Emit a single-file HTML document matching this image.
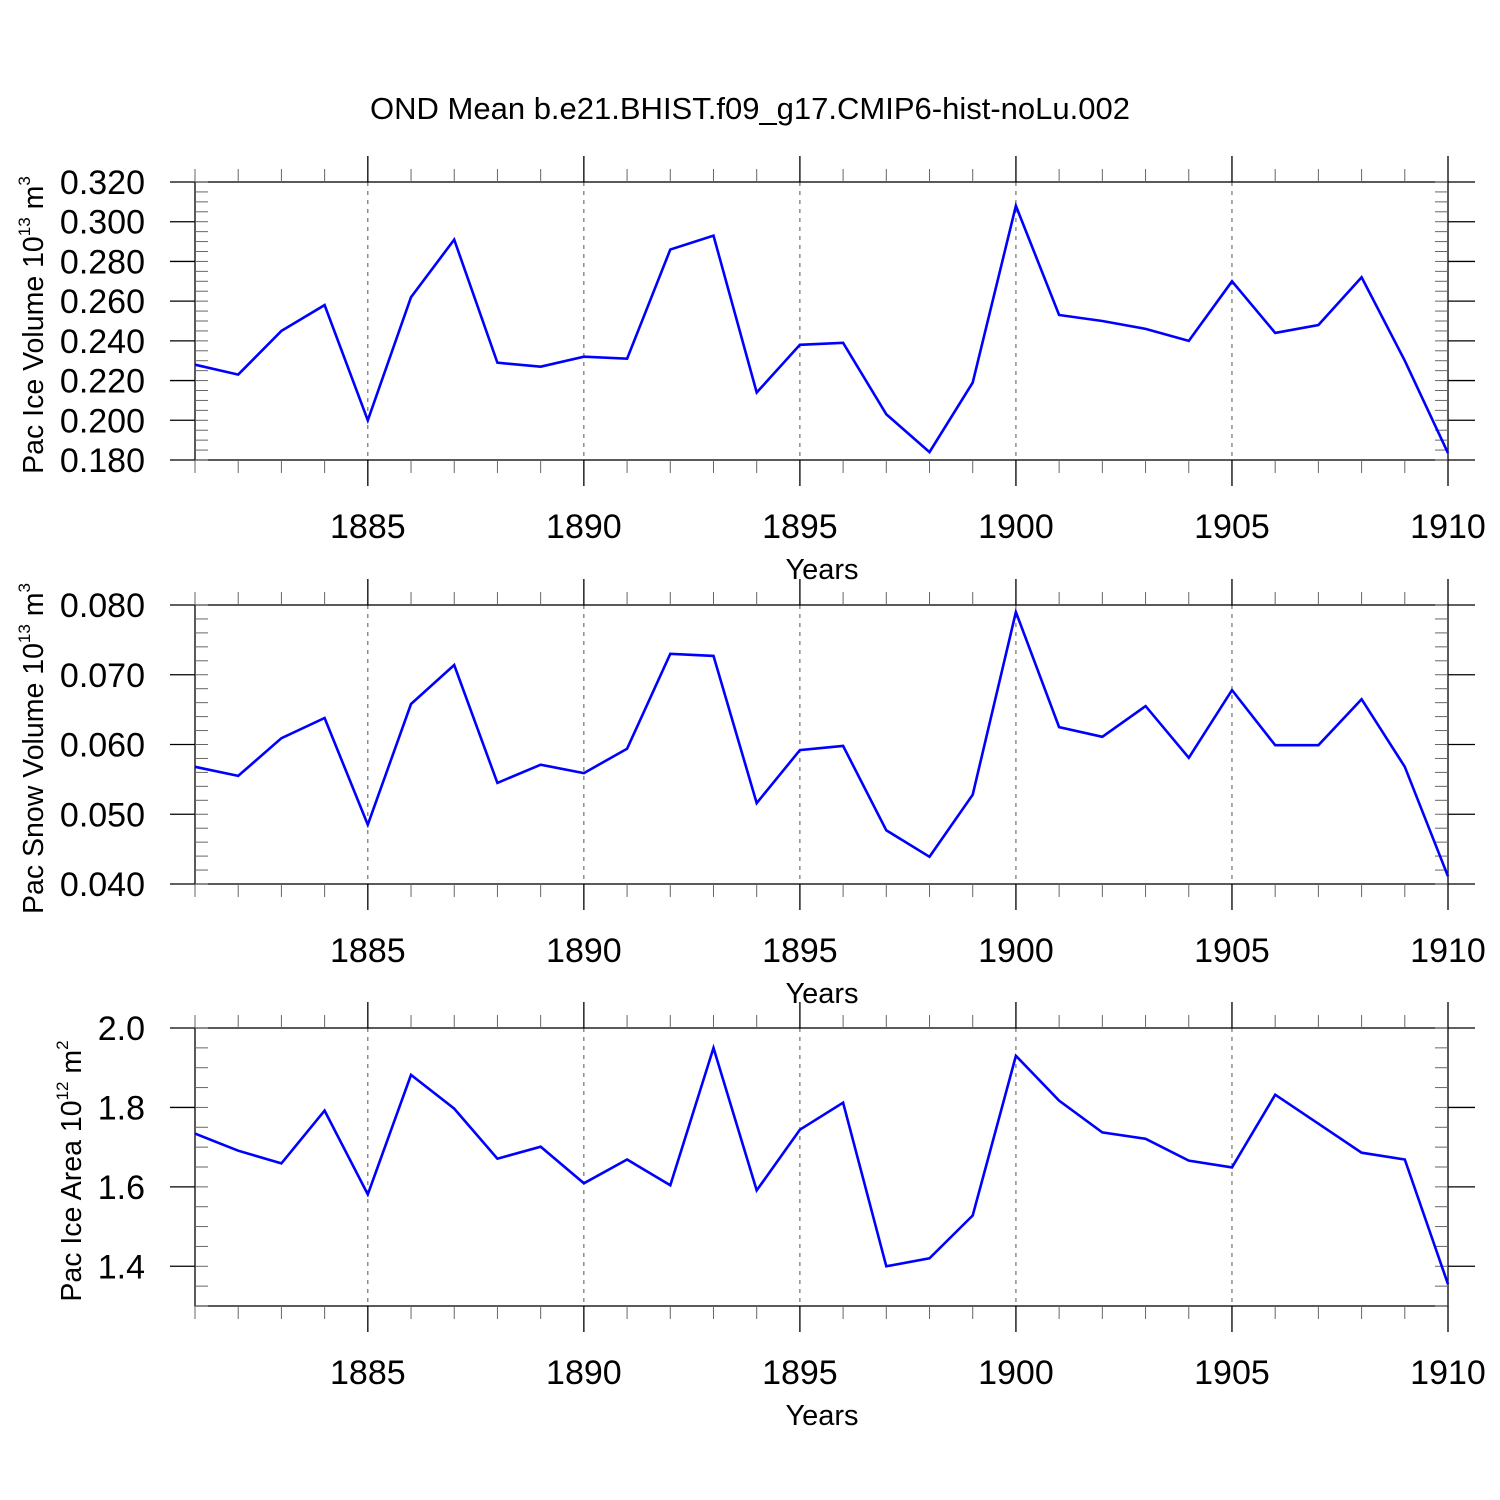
<!DOCTYPE html>
<html><head><meta charset="utf-8"><style>
html,body{margin:0;padding:0;background:#fff;}
svg{display:block;font-family:"Liberation Sans",sans-serif;}
</style></head><body>
<svg id="chart" width="1500" height="1500" viewBox="0 0 1500 1500">
<text x="750" y="119" font-size="31" text-anchor="middle">OND Mean b.e21.BHIST.f09_g17.CMIP6-hist-noLu.002</text>
</svg>
<script>
const years = [1881,1882,1883,1884,1885,1886,1887,1888,1889,1890,1891,1892,1893,1894,1895,1896,1897,1898,1899,1900,1901,1902,1903,1904,1905,1906,1907,1908,1909,1910];
const iceVolume = [0.228,0.223,0.245,0.258,0.200,0.262,0.291,0.229,0.227,0.232,0.231,0.286,0.293,0.214,0.238,0.239,0.203,0.184,0.219,0.308,0.253,0.250,0.246,0.240,0.270,0.244,0.248,0.272,0.230,0.1835];
const snowVolume = [0.0568,0.0555,0.0609,0.0638,0.0485,0.0658,0.0714,0.0545,0.0571,0.0559,0.0594,0.0730,0.0727,0.0516,0.0592,0.0598,0.0477,0.0439,0.0528,0.0790,0.0625,0.0611,0.0655,0.0581,0.0678,0.0599,0.0599,0.0665,0.0568,0.0411];
const iceArea = [1.734,1.691,1.659,1.792,1.581,1.882,1.797,1.671,1.701,1.609,1.669,1.604,1.950,1.591,1.744,1.812,1.400,1.420,1.528,1.930,1.817,1.737,1.721,1.666,1.649,1.832,1.759,1.686,1.669,1.355];
const xMajorTicks = [1885,1890,1895,1900,1905,1910];
const volTicks = [0.180,0.200,0.220,0.240,0.260,0.280,0.300,0.320];
const snowTicks = [0.040,0.050,0.060,0.070,0.080];
const areaTicks = [1.4,1.6,1.8,2.0];

const NS = "http://www.w3.org/2000/svg";
const svg = document.getElementById('chart');
const X0 = 195, X1 = 1448, XMIN = 1881, XMAX = 1910;
function xScale(v){ return X0 + (v - XMIN) / (XMAX - XMIN) * (X1 - X0); }
function mk(tag, attrs, parent){
  const e = document.createElementNS(NS, tag);
  for (const k in attrs) e.setAttribute(k, attrs[k]);
  (parent || svg).appendChild(e);
  return e;
}

const panels = [
  {name:'ice-volume', top:182, bottom:460, min:0.180, max:0.320, major:volTicks, minor:0.005, dec:3, data:iceVolume,
   title:['Pac Ice Volume 10','13',' m','3'], tx:43},
  {name:'snow-volume', top:605, bottom:884, min:0.040, max:0.080, major:snowTicks, minor:0.002, dec:3, data:snowVolume,
   title:['Pac Snow Volume 10','13',' m','3'], tx:43},
  {name:'ice-area', top:1028, bottom:1306, min:1.3, max:2.0, major:areaTicks, minor:0.05, dec:1, data:iceArea,
   title:['Pac Ice Area 10','12',' m','2'], tx:81}
];

panels.forEach(p => {
  const g = mk('g', {});
  
  
  const yScale = v => p.bottom - (v - p.min) / (p.max - p.min) * (p.bottom - p.top);
  xMajorTicks.forEach(yr => {
    if (yr === XMAX) return;
    const l = mk('line', {x1:xScale(yr), x2:xScale(yr), y1:p.top, y2:p.bottom, stroke:'#555', 'stroke-width':1, 'stroke-dasharray':'4,5'}, g);
    
    
  });
  const fr = mk('rect', {x:X0, y:p.top, width:X1-X0, height:p.bottom-p.top, fill:'none', stroke:'#000', 'stroke-width':1.3}, g);
  
  
  const n = Math.round((p.max - p.min) / p.minor);
  for (let i = 0; i <= n; i++) {
    const v = p.min + i * p.minor;
    const y = yScale(v);
    mk('line', {x1:X0, x2:X0+13, y1:y, y2:y, stroke:'#666', 'stroke-width':1}, g);
    mk('line', {x1:X1-13, x2:X1, y1:y, y2:y, stroke:'#666', 'stroke-width':1}, g);
  }
  p.major.forEach(v => {
    const y = yScale(v);
    mk('line', {x1:X0-25, x2:X0, y1:y, y2:y, stroke:'#000', 'stroke-width':1.3}, g);
    mk('line', {x1:X1, x2:X1+27, y1:y, y2:y, stroke:'#000', 'stroke-width':1.3}, g);
    const t = mk('text', {x:145, y:y+12, 'font-size':34, 'text-anchor':'end'}, g);
    
    
    t.textContent = v.toFixed(p.dec);
  });
  years.forEach(yr => {
    const x = xScale(yr);
    const maj = xMajorTicks.includes(yr);
    const len = maj ? 26 : 13;
    mk('line', {x1:x, x2:x, y1:p.top-len, y2:p.top, stroke:maj?'#000':'#666', 'stroke-width':maj?1.3:1}, g);
    mk('line', {x1:x, x2:x, y1:p.bottom, y2:p.bottom+len, stroke:maj?'#000':'#666', 'stroke-width':maj?1.3:1}, g);
  });
  xMajorTicks.forEach(yr => {
    const t = mk('text', {x:xScale(yr), y:p.bottom+78, 'font-size':34, 'text-anchor':'middle'}, g);
    
    
    t.textContent = yr;
  });
  const xt = mk('text', {x:822, y:p.bottom+119, 'font-size':29, 'text-anchor':'middle'}, g);
  
  
  xt.textContent = 'Years';
  const cy = (p.top + p.bottom) / 2 + 4;
  const yt = mk('text', {x:0, y:0, 'font-size':28.5, 'text-anchor':'middle', transform:`translate(${p.tx},${cy}) rotate(-90)`}, g);
  
  
  const parts = p.title;
  const s0 = mk('tspan', {}, yt); s0.textContent = parts[0];
  const s1 = mk('tspan', {'font-size':17, dy:-13}, yt); s1.textContent = parts[1];
  const s2 = mk('tspan', {dy:13}, yt); s2.textContent = parts[2];
  const s3 = mk('tspan', {'font-size':17, dy:-13}, yt); s3.textContent = parts[3];
  const pts = p.data.map((v, i) => xScale(years[i]).toFixed(1) + ',' + yScale(v).toFixed(1)).join(' ');
  const pl = mk('polyline', {points:pts, fill:'none', stroke:'#0000ff', 'stroke-width':2.6, 'stroke-linejoin':'miter'}, g);
  
  
});
</script>
</body></html>
